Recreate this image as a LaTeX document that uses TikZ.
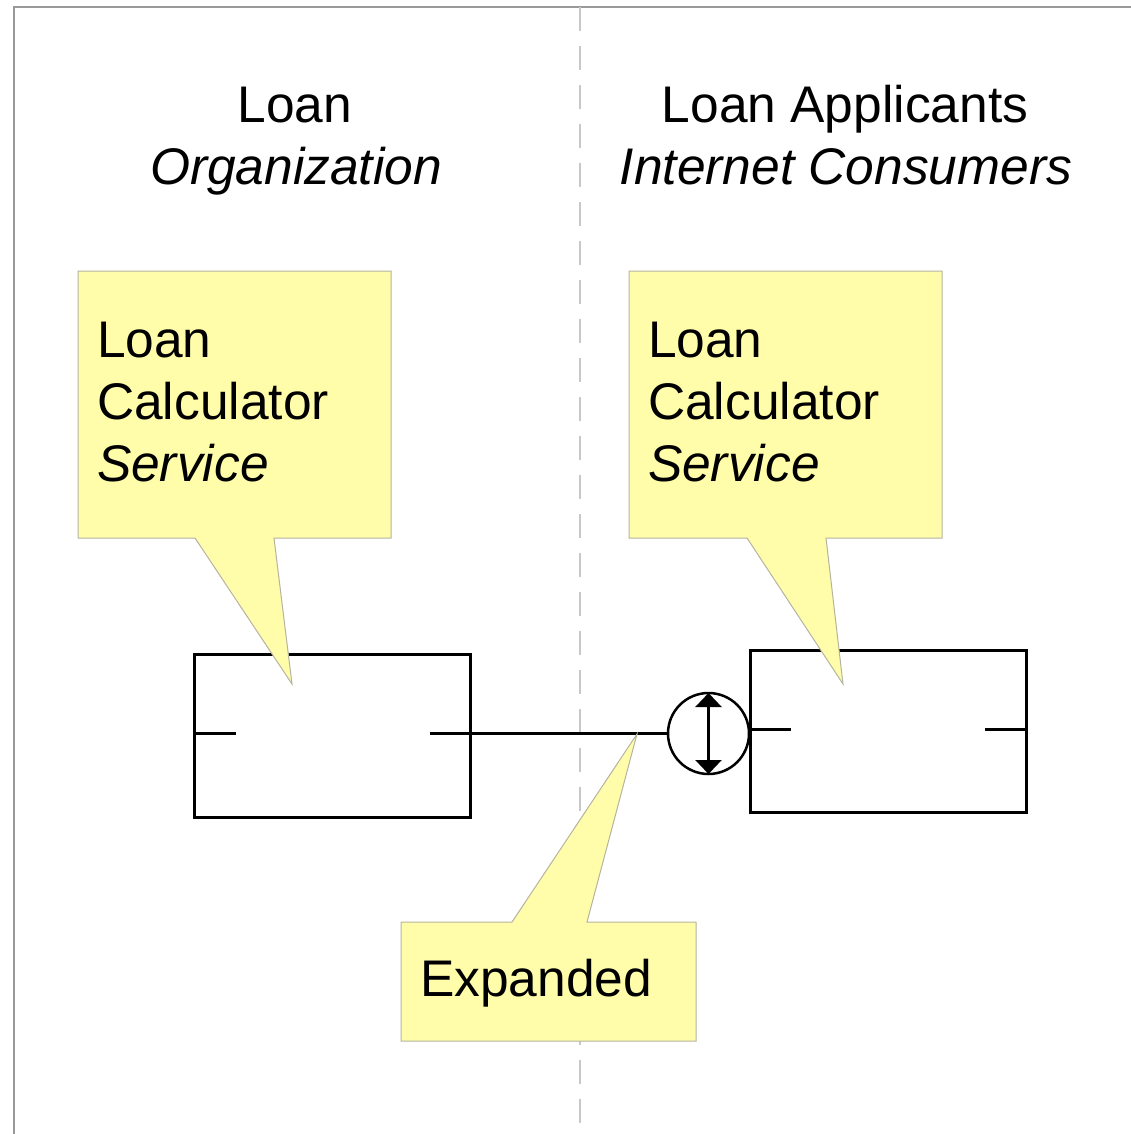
\documentclass[tikz,border=0pt]{standalone}
\usepackage{fontspec}
\setmainfont{Liberation Sans}
\usetikzlibrary{arrows.meta}
\definecolor{noteyellow}{HTML}{FFFCAA}
\definecolor{noteedge}{HTML}{B4B4A0}
\definecolor{framegray}{HTML}{999999}
\definecolor{dashgray}{HTML}{C8C8C8}
\begin{document}
\begin{tikzpicture}[x=1pt,y=-1pt,
  every node/.style={font=\fontsize{51.5}{62}\selectfont, inner sep=0pt, outer sep=0pt},
  txt/.style={anchor=base west},
  ttl/.style={anchor=base},
  note/.style={fill=noteyellow, draw=noteedge, line width=1pt, line join=miter},
  compbox/.style={draw=black, line width=3pt, minimum width=276pt, minimum height=163pt, fill=none},
  tick/.style={line width=3pt},
  iface/.style={circle, draw=black, line width=2.5pt, minimum size=81pt, fill=white}
  ]
\useasboundingbox (0,0) rectangle (1131,1134);
% frame and swimlane divider
\draw[framegray, line width=2.4pt] (14,1134) -- (14,7) -- (1131,7);
\draw[dashgray, line width=2pt, dash pattern=on 24pt off 15pt] (580,7) -- (580,1134);

% titles
\node[ttl] (t1) at (295,123) {Loan};
\node[ttl] (t2) at (296,185) {\itshape Organization};
\node[ttl] (t3) at (845,123) {Loan Applicants};
\node[ttl] (t4) at (846,185) {\itshape Internet Consumers};

% component boxes
\node[compbox] (lbox) at (332,735.5) {};
\node[compbox, minimum height=162pt] (rbox) at (888,731) {};
\draw[tick] (lbox.west |- 0,733.5) -- (236,733.5);
\draw[tick] (rbox.west |- 0,729) -- (791,729);
\draw[tick] (985,729) -- (rbox.east |- 0,729);

% interface circle
\node[iface] (circ) at (708.5,733.5) {};
\draw[line width=2.5pt] (430,733.5) -- (circ.west);
\draw[tick] (430,733.5) -- (lbox.east |- 0,733.5);
\draw[line width=2.5pt, {Triangle[width=26pt,length=14pt]}-{Triangle[width=26pt,length=14pt]}] (circ.north) -- (circ.south);

% callouts
\draw[note] (78,271) -- (391,271) -- (391,538) -- (274,538) -- (292,684) -- (195,538) -- (78,538) -- cycle;
\node[txt] (l1) at (97,357) {Loan};
\node[txt] (l2) at (97,419) {Calculator};
\node[txt] (l3) at (97,481) {\itshape Service};

\draw[note] (629,271) -- (942,271) -- (942,538) -- (826,538) -- (843,684) -- (747,538) -- (629,538) -- cycle;
\node[txt] (r1) at (648,357) {Loan};
\node[txt] (r2) at (648,419) {Calculator};
\node[txt] (r3) at (648,481) {\itshape Service};

\draw[note] (401,922) -- (512,922) -- (637,734) -- (587,922) -- (696,922) -- (696,1041) -- (401,1041) -- cycle;
\node[txt] (e1) at (420,996) {Expanded};
\end{tikzpicture}
\end{document}
